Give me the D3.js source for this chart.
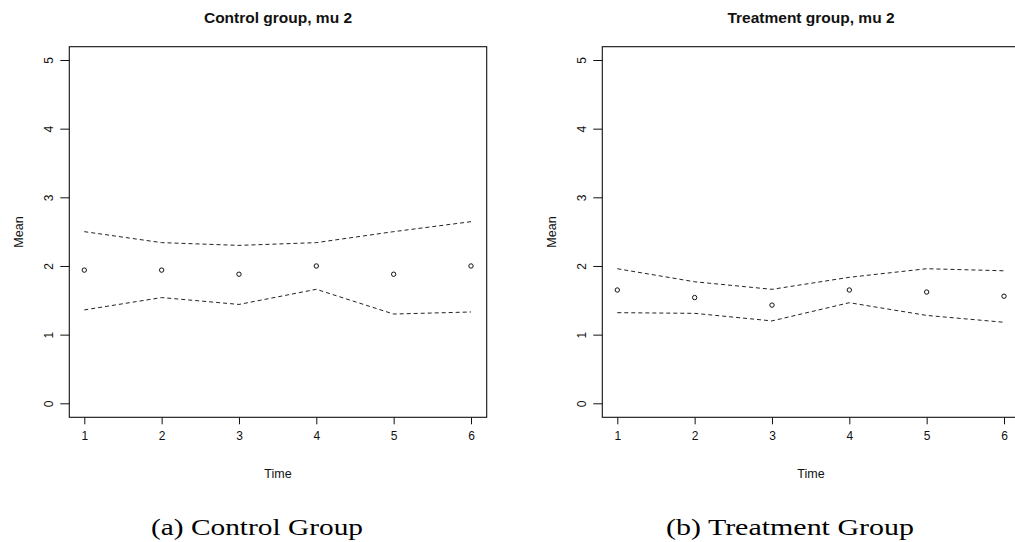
<!DOCTYPE html>
<html>
<head>
<meta charset="utf-8">
<script src="https://cdn.jsdelivr.net/npm/d3@7"></script>
<style>
  html, body { margin: 0; padding: 0; background: #fff; }
  svg { display: block; }
  .tick text { font-family: "Liberation Sans", Arial, sans-serif; }
</style>
</head>
<body>
<svg id="chart" width="1015" height="542"></svg>
<script>
// Time points and tick labels
const times = [1, 2, 3, 4, 5, 6];
const yTicks = [0, 1, 2, 3, 4, 5];

// Control group: posterior means and interval bounds
const controlMean  = [1.94, 1.94, 1.88, 2.00, 1.88, 2.00];
const controlUpper = [2.50, 2.34, 2.30, 2.34, 2.50, 2.645];
const controlLower = [1.36, 1.54, 1.44, 1.66, 1.30, 1.33];

// Treatment group: posterior means and interval bounds
const treatMean  = [1.65, 1.54, 1.43, 1.65, 1.62, 1.56];
const treatUpper = [1.96, 1.77, 1.66, 1.835, 1.96, 1.93];
const treatLower = [1.32, 1.31, 1.20, 1.465, 1.28, 1.18];

const panels = [
  { title: "Control group, mu 2", caption: "(a) Control Group", capLen: 212,
    mean: controlMean, upper: controlUpper, lower: controlLower },
  { title: "Treatment group, mu 2", caption: "(b) Treatment Group", capLen: 248,
    mean: treatMean, upper: treatUpper, lower: treatLower }
];

const svg = d3.select("#chart");
const sans = "'Liberation Sans', Arial, Helvetica, sans-serif";

// Plot box geometry (per panel, before horizontal offset)
const box = { left: 69.3, right: 486.7, top: 46.7, bottom: 417.3 };
const panelShift = 533;

const x = d3.scaleLinear().domain([1, 6]).range([84.3, 471]);
const y = d3.scaleLinear().domain([0, 5]).range([403.3, 60]);

const line = d3.line().x((d, i) => x(times[i])).y(d => y(d));

panels.forEach((p, k) => {
  const g = svg.append("g").attr("transform", `translate(${k * panelShift},0)`);

  // frame
  g.append("rect")
    .attr("x", box.left).attr("y", box.top)
    .attr("width", box.right - box.left).attr("height", box.bottom - box.top)
    .attr("fill", "none").attr("stroke", "#111").attr("stroke-width", 1.1);

  // x axis
  const xAxis = g.append("g")
    .attr("transform", `translate(0,${box.bottom})`)
    .call(d3.axisBottom(x).tickValues(times).tickSize(7).tickPadding(14).tickFormat(d3.format("d")));
  xAxis.select(".domain").remove();
  xAxis.selectAll(".tick line").attr("stroke", "#111");
  xAxis.selectAll(".tick text").attr("font-size", 12).attr("fill", "#111")
    .attr("dy", "0.71em").attr("y", 14);

  // y axis (labels parallel to the axis)
  const yAxis = g.append("g")
    .attr("transform", `translate(${box.left},0)`)
    .call(d3.axisLeft(y).tickValues(yTicks).tickSize(9).tickFormat(d3.format("d")));
  yAxis.select(".domain").remove();
  yAxis.selectAll(".tick line").attr("stroke", "#111");
  yAxis.selectAll(".tick text")
    .attr("font-size", 12).attr("fill", "#111")
    .attr("x", null).attr("dy", null)
    .attr("text-anchor", "middle")
    .attr("transform", "translate(-16,0) rotate(-90)");

  // interval bounds
  [p.upper, p.lower].forEach(series => {
    g.append("path")
      .datum(series)
      .attr("d", line)
      .attr("fill", "none")
      .attr("stroke", "#222")
      .attr("stroke-width", 1)
      .attr("stroke-dasharray", "4,3");
  });

  // means
  g.selectAll("circle.mean")
    .data(p.mean)
    .join("circle")
    .attr("class", "mean")
    .attr("cx", (d, i) => x(times[i]))
    .attr("cy", d => y(d))
    .attr("r", 2.2)
    .attr("fill", "none")
    .attr("stroke", "#111")
    .attr("stroke-width", 1);

  // titles and axis labels
  const cx = (box.left + box.right) / 2;
  g.append("text")
    .attr("x", cx).attr("y", 23)
    .attr("text-anchor", "middle")
    .attr("font-family", sans).attr("font-weight", "bold").attr("font-size", 15.5)
    .attr("fill", "#111")
    .text(p.title);

  g.append("text")
    .attr("x", cx).attr("y", 478)
    .attr("text-anchor", "middle")
    .attr("font-family", sans).attr("font-size", 12.5)
    .attr("fill", "#111")
    .text("Time");

  g.append("text")
    .attr("transform", `translate(22.5,${(box.top + box.bottom) / 2}) rotate(-90)`)
    .attr("text-anchor", "middle")
    .attr("font-family", sans).attr("font-size", 12.5)
    .attr("fill", "#111")
    .text("Mean");

  // sub-figure caption
  g.append("text")
    .attr("x", 257 - p.capLen / 2).attr("y", 535)
    .attr("font-family", "'Liberation Serif', 'Times New Roman', serif")
    .attr("font-size", 24)
    .attr("textLength", p.capLen)
    .attr("lengthAdjust", "spacingAndGlyphs")
    .attr("fill", "#000")
    .text(p.caption);
});
</script>
</body>
</html>
